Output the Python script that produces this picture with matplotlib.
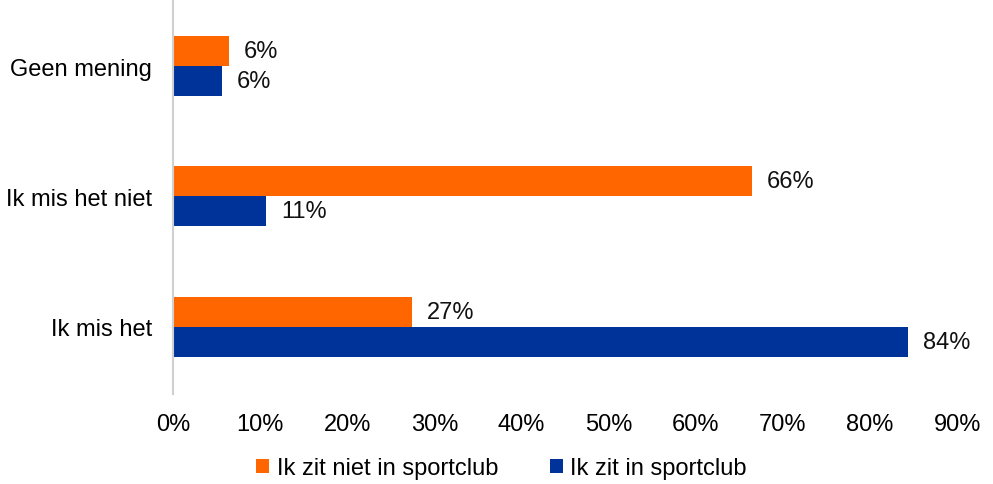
import matplotlib.pyplot as plt
import numpy as np

categories = ["Ik mis het", "Ik mis het niet", "Geen mening"]
niet_sportclub = [27.4, 66.4, 6.4]
wel_sportclub = [84.3, 10.7, 5.6]
series_names = ["Ik zit niet in sportclub", "Ik zit in sportclub"]
xticks = [0, 10, 20, 30, 40, 50, 60, 70, 80, 90]

orange = "#FF6600"
blue = "#003399"
fs = 17

plt.rcParams['font.family'] = ['Liberation Sans', 'DejaVu Sans']
fig = plt.figure(figsize=(9.93, 4.85), dpi=100)
ax = fig.add_axes([0.174, 0.186, 0.790, 0.814])

y = np.arange(len(categories))
h = 0.23
b1 = ax.barh(y + h/2, niet_sportclub, height=h, color=orange, label=series_names[0])
b2 = ax.barh(y - h/2, wel_sportclub, height=h, color=blue, label=series_names[1])

for bars, vals in ((b1, niet_sportclub), (b2, wel_sportclub)):
    for rect, v in zip(bars, vals):
        ax.annotate(f"{round(v)}%", (rect.get_width(), rect.get_y() + rect.get_height()/2),
                    xytext=(15, 0), textcoords="offset pixels",
                    va="center", ha="left", fontsize=fs, color="#111111")

ax.set_xlim(0, 90)
ax.set_ylim(-0.515, 2.515)
ax.set_yticks(y)
ax.set_yticklabels(categories, fontsize=fs)
ax.set_xticks(xticks)
ax.set_xticklabels([f"{t}%" for t in xticks], fontsize=fs)
ax.tick_params(axis='both', length=0)
ax.tick_params(axis='x', pad=14)
ax.tick_params(axis='y', pad=15)
for s in ("top", "right", "bottom"):
    ax.spines[s].set_visible(False)
ax.spines["left"].set_color("#D0D0D0")
ax.spines["left"].set_linewidth(1.5)

fig.legend(handles=[b1, b2], labels=series_names, loc="center", bbox_to_anchor=(0.505, 0.032),
           ncol=2, frameon=False, fontsize=fs, handlelength=0.55, handleheight=0.55,
           handletextpad=0.3, columnspacing=2.2)

fig.savefig("out.png", dpi=100)
